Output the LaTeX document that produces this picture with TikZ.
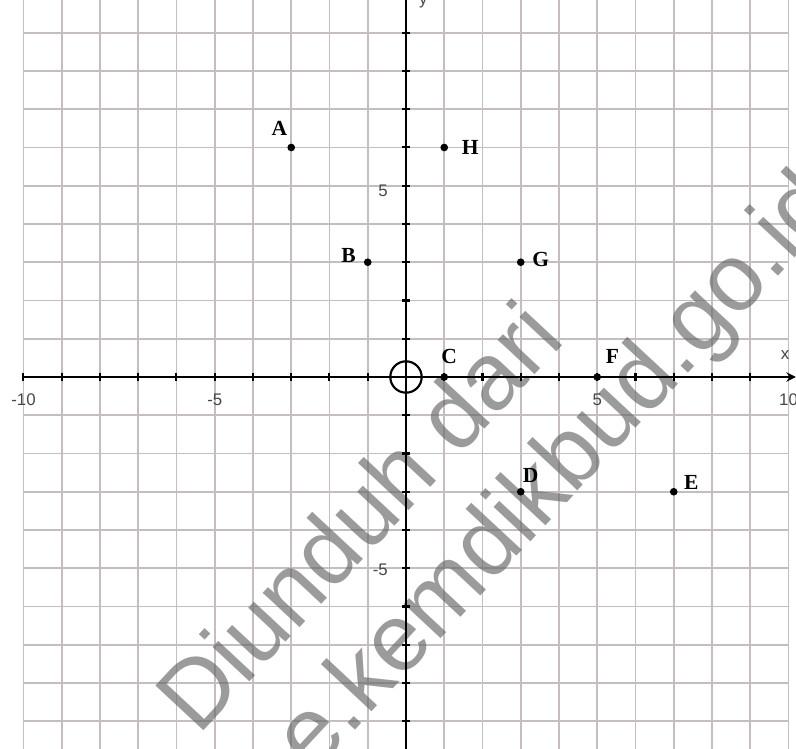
\documentclass[tikz,border=0pt]{standalone}
\usepackage{fontspec}
\setmainfont{Liberation Serif}
\newfontfamily\axisfont{Liberation Sans}
\usepackage{tikz}
\usetikzlibrary{arrows.meta,positioning,calc}
\definecolor{gridcol}{RGB}{198,190,190}
\definecolor{numcol}{RGB}{70,70,75}
\tikzset{
    gridline/.style={draw=gridcol,line width=1.2pt},
    axisline/.style={draw=black,line width=1.8pt},
    tickline/.style={draw=black,line width=1.5pt},
    ptdot/.style={fill=black},
    ptlabel/.style={font=\fontsize{16}{16}\selectfont\bfseries,inner sep=0pt},
    numlabel/.style={font=\axisfont\fontsize{12.5}{12.5}\selectfont,text=numcol,inner sep=0pt},
    watermark/.style={font=\axisfont\fontsize{71}{71}\selectfont,text=black!60,opacity=0.65,inner sep=0pt,anchor=base west,rotate=47},
}
\begin{document}
\begin{tikzpicture}
\useasboundingbox (-10.614,-9.725) rectangle (10.196,9.856);
% --- grid ---
            \foreach \x in {-10,...,10}
                \draw[gridline] (\x,-9.8) -- (\x,9.9);
            \foreach \y in {-9,...,9}
                \draw[gridline] (-10,\y) -- (10,\y);
% --- watermark ---
            \node[watermark] (wm1) at (-5.44,-9.41) {Diunduh dari};
            \node[watermark] (wm2) at (-2.43,-10.41) {e.kemdikbud.go.id};
% --- axes ---
            \draw[axisline,-{Stealth[length=7pt,width=7pt]}] (-10,0) -- (10.19,0);
            \draw[axisline] (0,-9.8) -- (0,9.9);
            \foreach \x in {-10,...,9}
                \draw[tickline] (\x,-0.11) -- (\x,0.11);
            \foreach \y in {-9,...,9}
                \draw[tickline] (-0.11,\y) -- (0.11,\y);
            \node[draw,circle,line width=1.6pt,minimum size=0.82cm,inner sep=0pt] (O) at (0,0) {};
% numbers on the axes
            \node[numlabel] (xm10) at (-10,-0.6) {-10};
            \node[numlabel] (xm5) at (-5,-0.6) {-5};
            \node[numlabel] (xp5) at (5,-0.6) {5};
            \node[numlabel] (xp10) at (10,-0.6) {10};
            \node[numlabel,anchor=east] (yp5) at (-0.47,4.88) {5};
            \node[numlabel,anchor=east] (ym5) at (-0.47,-5.05) {-5};
            \node[numlabel] (xlab) at (9.91,0.575) {x};
            \node[numlabel] (ylab) at (0.45,9.82) {y};
% --- points ---
            \coordinate (A) at (-3,6);
            \coordinate (B) at (-1,3);
            \coordinate (C) at (1,0);
            \coordinate (D) at (3,-3);
            \coordinate (E) at (7,-3);
            \coordinate (F) at (5,0);
            \coordinate (G) at (3,3);
            \coordinate (H) at (1,6);
            \foreach \p in {A,B,C,D,E,F,G,H}
                \fill[ptdot] (\p) circle (0.1);
% labels next to the points
            \node[ptlabel] (lA) at ([shift={(-0.31,0.50)}]A) {A};
            \node[ptlabel] (lB) at ([shift={(-0.50,0.18)}]B) {B};
            \node[ptlabel] (lC) at ([shift={(0.13,0.53)}]C) {C};
            \node[ptlabel] (lD) at ([shift={(0.26,0.43)}]D) {D};
            \node[ptlabel] (lE) at ([shift={(0.46,0.23)}]E) {E};
            \node[ptlabel] (lF) at ([shift={(0.40,0.53)}]F) {F};
            \node[ptlabel] (lG) at ([shift={(0.52,0.08)}]G) {G};
            \node[ptlabel] (lH) at ([shift={(0.68,0.00)}]H) {H};
\end{tikzpicture}
\end{document}
